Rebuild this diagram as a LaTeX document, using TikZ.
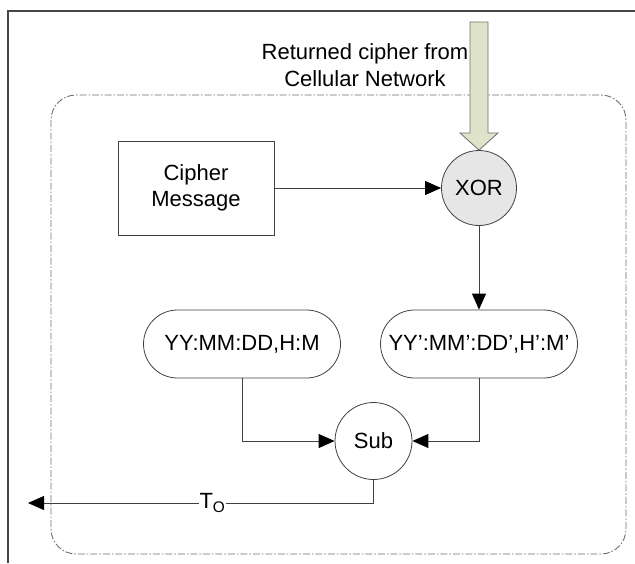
\documentclass[tikz,border=0pt]{standalone}
\usepackage{fontspec}
\setmainfont{Liberation Sans}
\usetikzlibrary{shapes.misc,arrows.meta}
\definecolor{linec}{RGB}{64,64,64}
\definecolor{framec}{RGB}{70,70,70}
\definecolor{dashc}{RGB}{110,110,110}
\definecolor{arrowfill}{RGB}{222,228,202}
\definecolor{xorfill}{RGB}{230,230,230}
\tikzset{
  txt/.style={font=\fontsize{22pt}{26.4pt}\selectfont},
  box/.style={txt,draw=linec,line width=0.8pt,align=center,inner sep=0pt},
  pill/.style={box,rounded rectangle,minimum width=197pt,minimum height=68pt},
  rnd/.style={box,circle},
  conn/.style={draw=linec,line width=0.9pt,-{Triangle[length=16pt,width=14pt,color=black,fill=black]}},
}
\begin{document}
\begin{tikzpicture}[x=1pt,y=-1pt]
\useasboundingbox (0,0) rectangle (635,563);
% outer frame lines
\draw[framec,line width=1.1pt] (8,563) -- (8,11) -- (635,11);
% dashed rounded boundary
\draw[dashc,line width=0.9pt,rounded corners=25pt,dash pattern=on 7pt off 2pt on 1.5pt off 2pt] (51,95) rectangle (626,554);
% nodes
\node[box,minimum width=156pt,minimum height=94pt] (cm) at (196,188) {Cipher\\Message};
\node[rnd,fill=xorfill,minimum size=75pt] (xor) at (479,188) {XOR};
\node[pill] (p1) at (242,344) {YY:MM:DD,H:M};
\node[pill] (p2) at (479,344) {YY’:MM’:DD’,H’:M’};
\node[rnd,fill=white,minimum size=77pt] (sub) at (373.5,441) {Sub};
\node[txt,align=center] (lbl) at (365,65) {Returned cipher from\\Cellular Network};
\coordinate (out) at (28,503);
% big input arrow
\draw[draw=dashc,fill=arrowfill,line width=0.8pt]
  ([xshift=-9pt]xor.north |- 0,22) -- ([xshift=9pt]xor.north |- 0,22)
  -- ([xshift=9pt]xor.north |- 0,133) -- ([xshift=19pt]xor.north |- 0,133)
  -- (xor.north) -- ([xshift=-19pt]xor.north |- 0,133)
  -- ([xshift=-9pt]xor.north |- 0,133) -- cycle;
% connectors
\draw[conn] (cm.east) -- (xor.west);
\draw[conn] (xor.south) -- (p2.north);
\draw[conn] (p1.south) |- (sub.west);
\draw[conn] (p2.south) |- (sub.east);
\draw[conn] (sub.south) |- (out) node[pos=0.733,fill=white,txt,inner sep=1pt] {T\textsubscript{O}};
\end{tikzpicture}
\end{document}
